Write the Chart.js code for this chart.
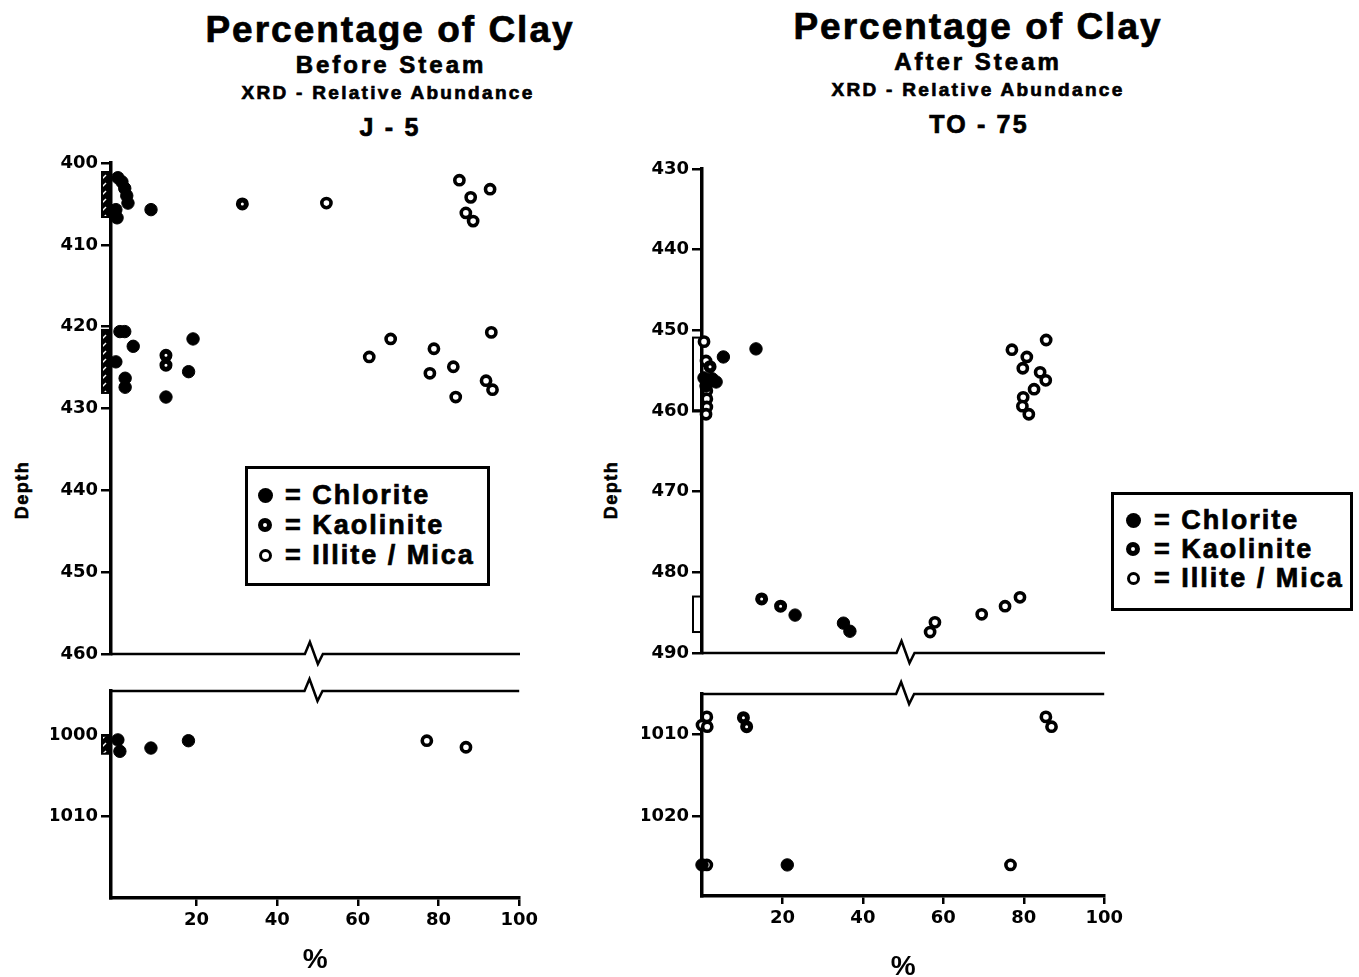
<!DOCTYPE html>
<html>
<head>
<meta charset="utf-8">
<script src="https://cdn.jsdelivr.net/npm/chart.js@4.4.0/dist/chart.umd.min.js"></script>
<style>
  body { margin: 0; width: 1359px; height: 977px; overflow: hidden; position: relative; background: #fff;
         font-family: "Liberation Sans", Arial, sans-serif; font-weight: bold; color: #000; }
  canvas { position: absolute; }
  .t { position: absolute; width: 600px; text-align: center; white-space: nowrap; line-height: 1; -webkit-text-stroke: 0.7px #000; }
  .depth { position: absolute; font-size: 18px; letter-spacing: 1.5px; line-height: 1; transform: rotate(-90deg); transform-origin: center;
           width: 80px; text-align: center; -webkit-text-stroke: 0.6px #000; }
  .lg { position: absolute; border: 3px solid #000; background: #fff; }
  .lg .mk { position: absolute; border-radius: 50%; box-sizing: border-box; }
  .lg .tx { position: absolute; font-size: 27px; line-height: 27px; letter-spacing: 2px; white-space: nowrap; -webkit-text-stroke: 0.7px #000; }
</style>
</head>
<body>
<div class="t" style="left:90px;top:11px;font-size:37px;letter-spacing:2px">Percentage of Clay</div>
<div class="t" style="left:91px;top:53px;font-size:24px;letter-spacing:3px">Before Steam</div>
<div class="t" style="left:88px;top:83px;font-size:19px;letter-spacing:2.3px">XRD - Relative Abundance</div>
<div class="t" style="left:90px;top:115px;font-size:25px;letter-spacing:2.2px">J - 5</div>

<div class="t" style="left:678px;top:8px;font-size:37px;letter-spacing:2px">Percentage of Clay</div>
<div class="t" style="left:678px;top:50px;font-size:24px;letter-spacing:3px">After Steam</div>
<div class="t" style="left:678px;top:80px;font-size:19px;letter-spacing:2.3px">XRD - Relative Abundance</div>
<div class="t" style="left:679px;top:112px;font-size:25px;letter-spacing:2.2px">TO - 75</div>

<div class="depth" style="left:-18px;top:481px">Depth</div>
<div class="depth" style="left:571px;top:481px">Depth</div>

<div class="lg" id="legendLeft" style="left:245px;top:466px;width:239px;height:114px"></div>
<div class="lg" id="legendRight" style="left:1111px;top:492px;width:236px;height:113px"></div>

<script>
// J-5, before steam: [% , depth]
const j5UpChlorite = [[0.5,401.8],[1.5,402.3],[2.2,403.1],[2.7,404.0],[3.0,404.9],[0,405.7],[0.3,406.7],[8.7,405.7],
  [1.0,420.6],[2.2,420.6],[4.3,422.4],[0,424.3],[2.3,426.3],[2.3,427.4],[19.1,421.5],[18.0,425.5],[12.4,428.6]];
const j5UpKaolinite = [[31.3,405.0],[12.4,423.5],[12.4,424.7]];
const j5UpIllite = [[52.1,404.9],[85.0,402.1],[92.6,403.2],[87.8,404.2],[86.6,406.1],[88.4,407.1],
  [62.7,423.7],[68.0,421.5],[78.7,422.7],[77.7,425.7],[83.5,424.9],[84.1,428.6],[92.9,420.7],[91.6,426.6],[93.2,427.7]];
const j5LowChlorite = [[0.5,1000.6],[1.0,1002.0],[8.7,1001.6],[18.0,1000.7]];
const j5LowKaolinite = [];
const j5LowIllite = [[77.1,1000.7],[86.8,1001.5]];
const j5UpBoxes = [[401.1,406.6],[420.4,428.1]];
const j5LowBoxes = [[1000.1,1002.3]];

// TO-75, after steam
const to75UpChlorite = [[5.3,453.3],[13.4,452.3],[0.5,455.9],[2.5,456.0],[3.5,456.4],[1.0,456.9],
  [23.1,485.3],[35.1,486.3],[36.7,487.3]];
const to75UpKaolinite = [[2.0,454.5],[14.8,483.3],[19.5,484.2]];
const to75UpIllite = [[0.5,451.4],[1.0,453.8],[1.2,457.5],[1.2,458.5],[1.2,459.5],[1.0,460.4],
  [76.9,452.4],[85.4,451.2],[80.6,453.3],[79.6,454.7],[83.9,455.2],[85.3,456.2],[82.4,457.3],[79.7,458.3],[79.5,459.4],[81.1,460.4],
  [56.6,487.4],[57.8,486.2],[69.4,485.2],[75.2,484.2],[78.9,483.1]];
const to75LowChlorite = [[0,1026.0],[21.2,1026.0]];
const to75LowKaolinite = [[10.3,1008.0],[11.1,1009.1]];
const to75LowIllite = [[0,1008.9],[1.2,1007.9],[1.3,1009.1],[1.2,1026.0],[85.5,1007.9],[86.9,1009.1],[76.7,1026.0]];
const to75UpBoxes = [[450.9,459.9],[483.0,487.4]];
const to75LowBoxes = [];

// axes
const j5UpTicks = [400,410,420,430,440,450,460];
const j5LowTicks = [1000,1010];
const to75UpTicks = [430,440,450,460,470,480,490];
const to75LowTicks = [1010,1020];
const pctTicks = [20,40,60,80,100];
const minerals = ['Chlorite', 'Kaolinite', 'Illite / Mica'];

const YW = 60, PAD = 22;
const tickFont = { family: 'DejaVu Sans', weight: 'bold', size: 18 };

// mineral marker styles
const styles = [
  { pointRadius: 6.2, backgroundColor: '#000', borderColor: '#000', borderWidth: 1 },
  { pointRadius: 4, backgroundColor: '#fff', borderColor: '#000', borderWidth: 5 },
  { pointRadius: 4.6, backgroundColor: '#fff', borderColor: '#000', borderWidth: 3.6 }
];

function hatchPattern(ctx) {
  const c = document.createElement('canvas');
  c.width = 8; c.height = 8;
  const g = c.getContext('2d');
  g.fillStyle = '#000'; g.fillRect(0, 0, 8, 8);
  g.strokeStyle = '#fff'; g.lineWidth = 1.5;
  g.beginPath(); g.moveTo(1, 6); g.lineTo(5, 2); g.stroke();
  return ctx.createPattern(c, 'repeat');
}

// broken x line + sample interval boxes left of the depth axis
const panelExtras = {
  id: 'panelExtras',
  beforeDatasetsDraw(chart, args, o) {
    const { ctx, chartArea: a, scales: { x, y } } = chart;
    ctx.save();
    ctx.strokeStyle = '#000';
    ctx.lineWidth = 2.5;
    const ly = o.edge === 'top' ? a.top : a.bottom;
    const bx = x.getPixelForValue(o.breakAt);
    ctx.beginPath();
    ctx.moveTo(a.left, ly);
    ctx.lineTo(bx - 9, ly);
    ctx.lineTo(bx - 4, ly - 12);
    ctx.lineTo(bx + 4, ly + 10);
    ctx.lineTo(bx + 9, ly);
    ctx.lineTo(a.right, ly);
    ctx.stroke();
    o.boxes.forEach(([d0, d1]) => {
      const y0 = y.getPixelForValue(d0), y1 = y.getPixelForValue(d1);
      ctx.fillStyle = o.hatched ? hatchPattern(ctx) : '#fff';
      ctx.fillRect(a.left - 9, y0, 8, y1 - y0);
      ctx.lineWidth = 2;
      ctx.strokeRect(a.left - 9, y0, 8, y1 - y0);
    });
    ctx.restore();
  }
};

function toPoints(arr) {
  return arr.map(([x, y]) => ({ x, y }));
}

function panel(area, o) {
  const xh = o.xTitle ? o.xh : 0;
  const cv = document.createElement('canvas');
  const left = area.left - YW - PAD, top = area.top - PAD;
  cv.width = area.right + PAD - left;
  cv.height = area.bottom + xh + PAD - top;
  cv.style.left = left + 'px';
  cv.style.top = top + 'px';
  document.body.appendChild(cv);

  const datasets = o.sets.map((d, i) => Object.assign({
    label: minerals[i], data: toPoints(d), showLine: false, clip: false, pointStyle: 'circle'
  }, styles[i]));

  new Chart(cv, {
    type: 'scatter',
    data: { datasets },
    plugins: [panelExtras],
    options: {
      responsive: false,
      animation: false,
      events: [],
      layout: { padding: { left: PAD, top: PAD, right: PAD, bottom: PAD } },
      plugins: {
        legend: { display: false },
        tooltip: { enabled: false },
        panelExtras: { edge: o.xTitle ? 'top' : 'bottom', boxes: o.boxes, hatched: o.hatched, breakAt: o.breakAt }
      },
      scales: {
        x: {
          type: 'linear', min: o.xMin, max: 100,
          display: !!o.xTitle,
          afterFit: s => { s.height = xh; },
          afterBuildTicks: s => { s.ticks = pctTicks.map(v => ({ value: v })); },
          grid: { display: true, drawOnChartArea: false, drawTicks: true, tickLength: 8, color: '#000', lineWidth: 2.5 },
          border: { display: true, color: '#000', width: 3.5 },
          ticks: { color: '#000', font: tickFont, padding: 4, maxRotation: 0, autoSkip: false, callback: v => v },
          title: { display: !!o.xTitle, text: '%', color: '#000', padding: 0,
                   font: { family: 'Liberation Sans', weight: 'bold', size: 28 } }
        },
        y: {
          type: 'linear', reverse: true, min: o.yMin, max: o.yMax,
          afterFit: s => { s.width = YW; },
          afterBuildTicks: s => { s.ticks = o.yTicks.map(v => ({ value: v })); },
          grid: { display: true, drawOnChartArea: false, drawTicks: true, tickLength: 10, color: '#000', lineWidth: 2.5 },
          border: { display: true, color: '#000', width: 3.5 },
          ticks: { color: '#000', font: tickFont, padding: 3, autoSkip: false, callback: v => v }
        }
      }
    }
  });
}

panel({ left: 111, top: 163, right: 520, bottom: 654 },
  { xMin: -1.2, yMin: 400, yMax: 460, yTicks: j5UpTicks, boxes: j5UpBoxes, hatched: true, breakAt: 49,
    sets: [j5UpChlorite, j5UpKaolinite, j5UpIllite] });
panel({ left: 111, top: 691, right: 520, bottom: 898 },
  { xMin: -1.2, yMin: 994.6, yMax: 1020, yTicks: j5LowTicks, boxes: j5LowBoxes, hatched: true, breakAt: 49,
    xTitle: true, xh: 79, sets: [j5LowChlorite, j5LowKaolinite, j5LowIllite] });
panel({ left: 702, top: 169, right: 1105, bottom: 653 },
  { xMin: 0, yMin: 430, yMax: 490, yTicks: to75UpTicks, boxes: to75UpBoxes, hatched: false, breakAt: 50.5,
    sets: [to75UpChlorite, to75UpKaolinite, to75UpIllite] });
panel({ left: 702, top: 694, right: 1105, bottom: 896 },
  { xMin: 0, yMin: 1005.1, yMax: 1029.8, yTicks: to75LowTicks, boxes: to75LowBoxes, hatched: false, breakAt: 50.5,
    xTitle: true, xh: 88, sets: [to75LowChlorite, to75LowKaolinite, to75LowIllite] });

// legends
const markerCss = [
  'width:15px;height:15px;background:#000;',
  'width:14px;height:14px;background:#fff;border:5px solid #000;',
  'width:13px;height:13px;background:#fff;border:3.5px solid #000;'
];
function buildLegend(id, mx, tx, rowTops, markCenters) {
  const el = document.getElementById(id);
  minerals.forEach((m, i) => {
    const size = i === 0 ? 15 : (i === 1 ? 14 : 13);
    const mk = document.createElement('div');
    mk.className = 'mk';
    mk.style.cssText = markerCss[i] + 'left:' + (mx - size / 2) + 'px;top:' + (markCenters[i] - size / 2) + 'px;';
    el.appendChild(mk);
    const t = document.createElement('div');
    t.className = 'tx';
    t.style.left = tx + 'px';
    t.style.top = rowTops[i] + 'px';
    t.textContent = '= ' + m;
    el.appendChild(t);
  });
}
buildLegend('legendLeft', 17, 37, [13, 43, 73], [26, 56, 86]);
buildLegend('legendRight', 19, 40, [12, 41, 70], [25, 54, 83]);
</script>
</body>
</html>
